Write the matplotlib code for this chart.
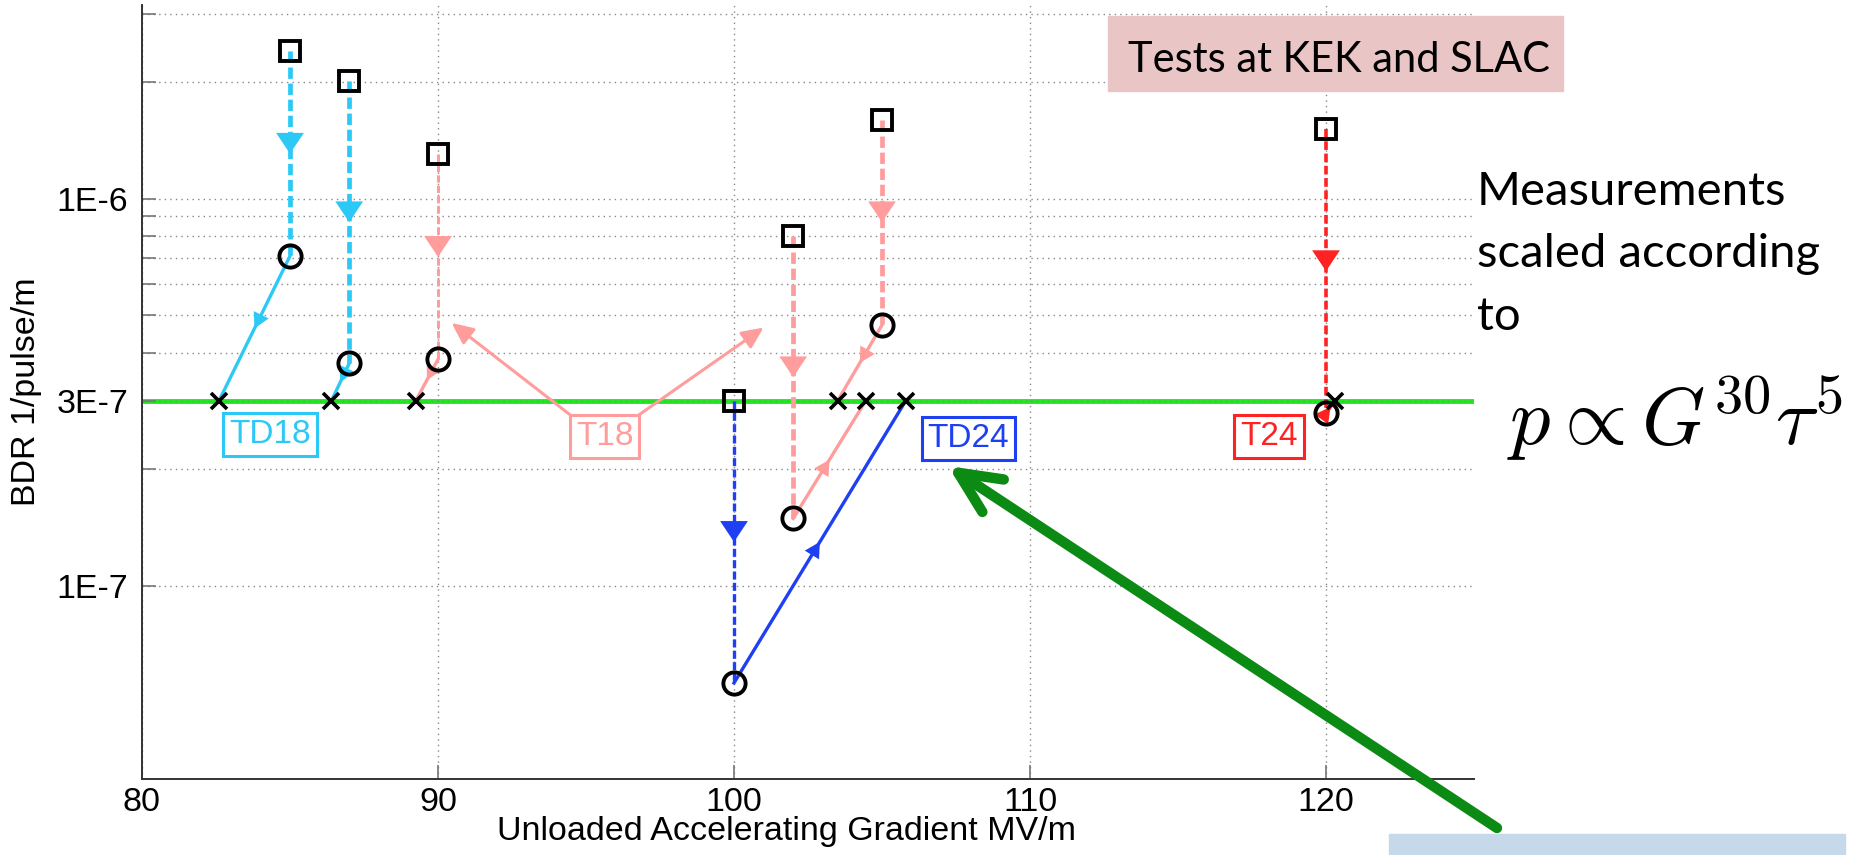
import matplotlib
matplotlib.use("Agg")
import matplotlib.pyplot as plt
import numpy as np
from matplotlib.patches import Rectangle, FancyArrowPatch
from matplotlib.ticker import FixedLocator, FixedFormatter

plt.rcParams.update({
    "font.family": "Liberation Sans",
    "font.size": 24.5,
    "axes.linewidth": 1.4,
    "axes.edgecolor": "#333333",
})

W, H = 1855, 855

# one entry per test: structure, gradient (MV/m), measured BDR, BDR scaled to
# the reference pulse length, gradient at which BDR = 3E-7
STRUCT = ["TD18", "TD18", "T18", "T18", "T18", "TD24", "T24"]
GRAD = [85, 87, 90, 102, 105, 100, 120]
BDR_MEAS = [2.40e-6, 2.01e-6, 1.30e-6, 8.0e-7, 1.60e-6, 3.0e-7, 1.51e-6]
BDR_SCALED = [7.1e-7, 3.75e-7, 3.84e-7, 1.49e-7, 4.71e-7, 5.6e-8, 2.79e-7]
GRAD_REF = [82.6, 86.4, 89.25, 104.45, 103.5, 105.8, 120.3]
BDR_REF = 3e-7

COLOR = {"TD18": "#2cc9f6", "T18": "#ff9d9d", "TD24": "#1f3ff2", "T24": "#ff2222"}
DASH_LW = [3.4, 3.4, 2.2, 3.4, 3.4, 2.4, 2.6]
LABEL_XY = {"TD18": (84.32, 2.45e-7), "T18": (95.63, 2.42e-7),
            "TD24": (107.92, 2.40e-7), "T24": (118.07, 2.42e-7)}

YTICKS = [1e-7, 2e-7, 3e-7, 4e-7, 5e-7, 6e-7, 7e-7, 8e-7, 9e-7, 1e-6, 2e-6, 3e-6]
YTICKLABELS = ["1E-7", "", "3E-7", "", "", "", "", "", "", "1E-6", "", ""]
XTICKS = [80, 90, 100, 110, 120]

NOTE_LINES = ["Measurements", "scaled according", "to"]


def fx(px):
    return px / W


def fy(py):
    return 1 - py / H


def mid_arrow(ax, p0, p1, color, hl, hw):
    # arrow head with its tip halfway along the segment (log y)
    xm = (p0[0] + p1[0]) / 2
    ym = np.sqrt(p0[1] * p1[1])
    ax.annotate("", xy=(xm, ym), xytext=p0,
                arrowprops=dict(arrowstyle=f"-|>,head_length={hl},head_width={hw}",
                                color=color, lw=0, shrinkA=0, shrinkB=0,
                                mutation_scale=1), zorder=4)


fig = plt.figure(figsize=(W / 100, H / 100), dpi=100)
ax = fig.add_axes([fx(142), fy(779), (1474 - 142) / W, (779 - 5) / H])
ax.set_yscale("log")
ax.set_xlim(80, 125)
ax.set_ylim(10 ** -7.5, 10 ** -5.5)

ax.axhline(BDR_REF, color="#22e622", lw=3.5, zorder=1.5)

for i, s in enumerate(STRUCT):
    c = COLOR[s]
    sq = (GRAD[i], BDR_MEAS[i])
    ci = (GRAD[i], BDR_SCALED[i])
    cr = (GRAD_REF[i], BDR_REF)
    ax.plot([sq[0], ci[0]], [sq[1], ci[1]], color=c, lw=DASH_LW[i],
            ls=(0, (2.4, 1.0)), zorder=3)
    ax.plot([ci[0], cr[0]], [ci[1], cr[1]], color=c, lw=2.4, zorder=3)
    mid_arrow(ax, sq, ci, c, 15, 10)
    mid_arrow(ax, ci, cr, c, 11, 6)
    ax.plot(*sq, "s", ms=14, mfc="none", mec="black", mew=2.8, zorder=5)
    ax.plot(*ci, "o", ms=16, mfc="none", mec="black", mew=2.8, zorder=5)
    ax.plot(*cr, "x", ms=12, mec="black", mew=2.6, zorder=5)

# structure labels
for s, (lx, ly) in LABEL_XY.items():
    ax.text(lx, ly, s, color=COLOR[s], fontsize=24, ha="center", va="center",
            zorder=6, bbox=dict(boxstyle="square,pad=0.18", fc="white",
                                ec=COLOR[s], lw=2.2))

# T18 pointer arrows from the label box
for tip in [(90.46, 4.77e-7), (101.0, 4.64e-7)]:
    start = (94.52, 2.74e-7) if tip[0] < 95 else (96.73, 2.74e-7)
    ax.annotate("", xy=tip, xytext=start,
                arrowprops=dict(arrowstyle="-|>,head_length=13,head_width=6",
                                color=COLOR["T18"], lw=2.2, shrinkA=0, shrinkB=0,
                                mutation_scale=1), zorder=4)

ax.xaxis.set_major_locator(FixedLocator(XTICKS))
ax.yaxis.set_major_locator(FixedLocator(YTICKS))
ax.yaxis.set_major_formatter(FixedFormatter(YTICKLABELS))
ax.yaxis.set_minor_locator(FixedLocator([]))
ax.grid(True, ls=(0, (1, 3)), color="#888888", lw=1.0, zorder=0)
ax.tick_params(direction="in", length=10, width=1.2, color="#777777",
               labelsize=24.5)
ax.tick_params(axis="x", pad=6)
ax.tick_params(axis="y", pad=10)
for side in ["top", "right"]:
    ax.spines[side].set_visible(False)

ax.set_xlabel("Unloaded Accelerating Gradient MV/m", fontsize=24.5)
ax.xaxis.set_label_coords((786 - 142) / 1332, -0.048)
ax.set_ylabel("BDR 1/pulse/m", fontsize=24.5)
ax.yaxis.set_label_coords((42 - 142) / 1332, 0.5)

# annotation box and notes on the right
fig.add_artist(Rectangle((fx(1108), fy(91)), fx(455), 75 / H,
                         transform=fig.transFigure, color="#eac5c5", zorder=1))
fig.text(fx(1128), fy(72), "Tests at KEK and SLAC", family="Lato",
         fontsize=30, ha="left", va="baseline", zorder=2)
for line, base in zip(NOTE_LINES, [205, 267, 330]):
    fig.text(fx(1477), fy(base), line, family="Lato", fontsize=34,
             ha="left", va="baseline", zorder=2)
fig.text(fx(1507), fy(445), r"$p \propto G^{30}\tau^5$",
         math_fontfamily="cm", fontsize=58, ha="left", va="baseline", zorder=2)

fig.add_artist(Rectangle((fx(1389), 0), fx(456), 21 / H,
                         transform=fig.transFigure, color="#c6d9eb", zorder=1))
fig.add_artist(FancyArrowPatch((fx(1497), fy(828)), (fx(948), fy(466)),
                               transform=fig.transFigure,
                               arrowstyle="->,head_length=30,head_width=14",
                               mutation_scale=1, color="#0b8a14", lw=7.5,
                               shrinkA=0, shrinkB=0, zorder=7))

fig.savefig("out.png", dpi=100)
